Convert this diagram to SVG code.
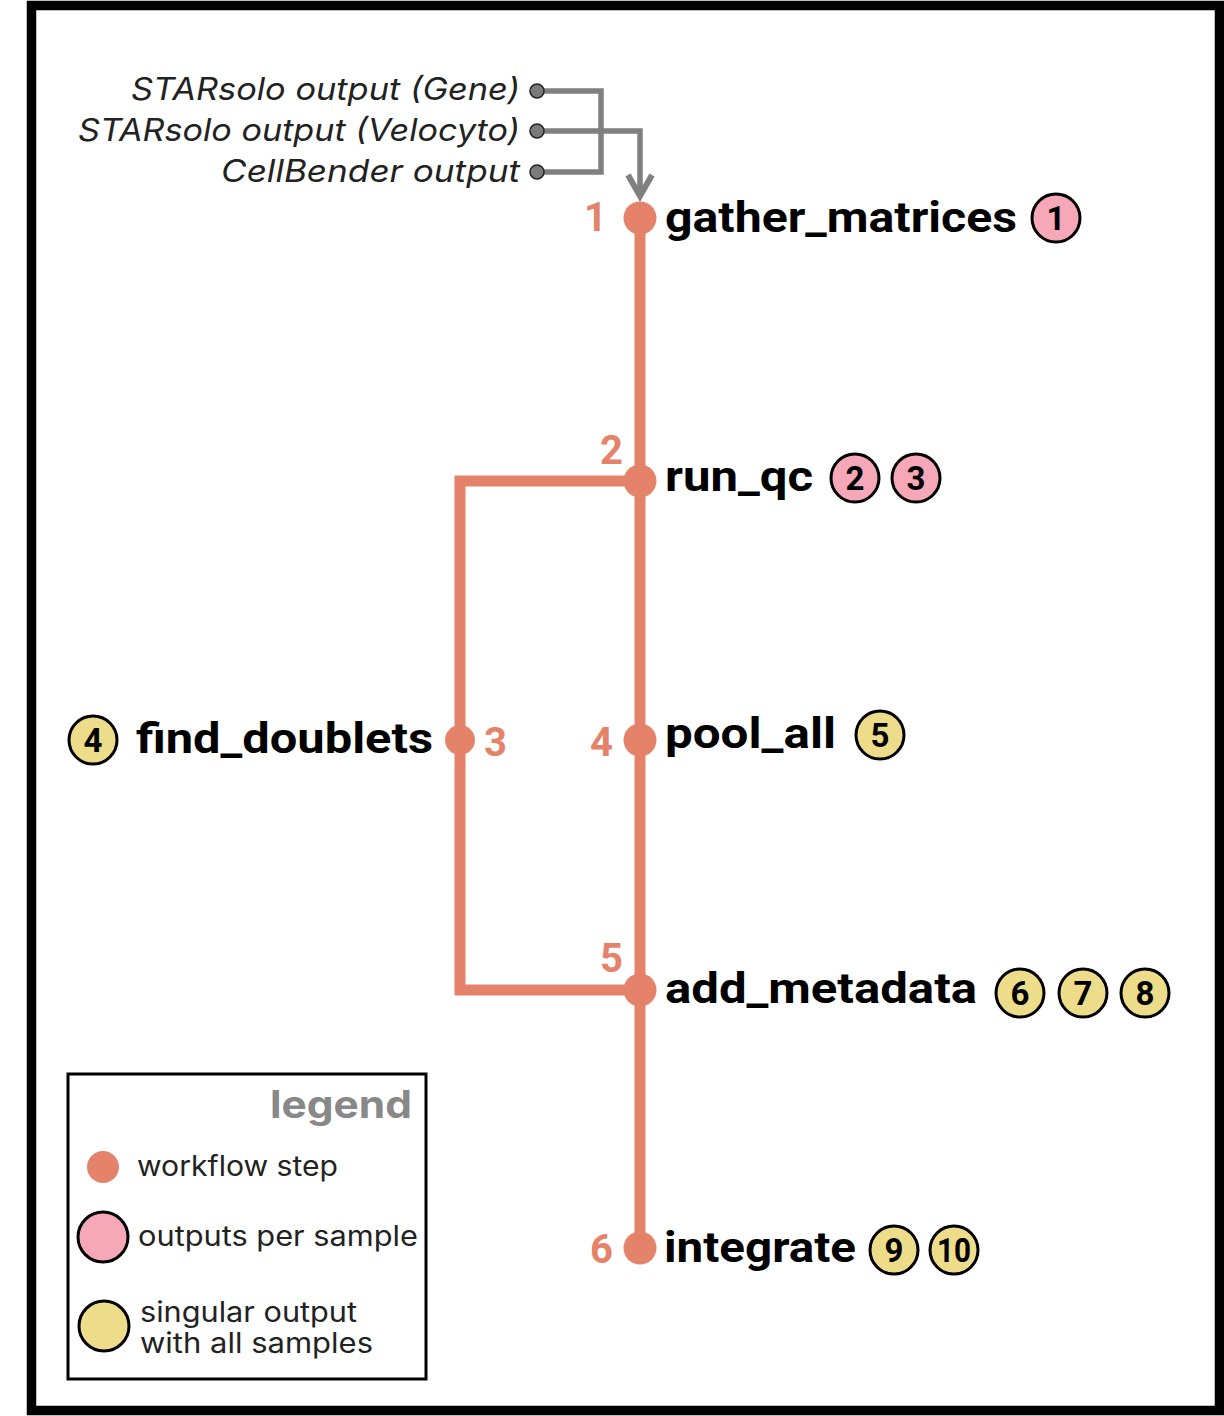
<svg xmlns="http://www.w3.org/2000/svg" width="1224" height="1416" viewBox="0 0 1224 1416">
<style>
.lbl{font-family:Roboto,"Liberation Sans",sans-serif;font-weight:700;font-size:42px;fill:#000}
.num{font-family:Roboto,"Liberation Sans",sans-serif;font-weight:700;font-size:40px;fill:#E5826A}
.cn{font-family:Roboto,"Liberation Sans",sans-serif;font-weight:700;font-size:33px;fill:#000;text-anchor:middle}
.inp{font-family:Inter,"Liberation Sans",sans-serif;font-style:italic;font-size:31px;fill:#222;text-anchor:end}
.leg{font-family:Inter,"Liberation Sans",sans-serif;font-size:28px;fill:#222}
.pink{fill:#F6A8B8;stroke:#000;stroke-width:3}
.yel{fill:#EDDC8A;stroke:#000;stroke-width:3}
.step{fill:#E5826A}
.route{fill:none;stroke:#E5826A;stroke-width:11}
.grey{fill:none;stroke:#808080;stroke-width:5.5}
.gdot{fill:#7a7a7a;stroke:#222;stroke-width:1.5}
</style>
<rect x="0" y="0" width="1224" height="1416" fill="#fff"/>
<rect x="31.5" y="5.5" width="1188" height="1405" fill="#fff" stroke="#000" stroke-width="9.5"/>

<g id="connectors">
<polyline class="route" points="640,218 640,1250"/>
<polyline class="route" points="640,481 460,481 460,990 640,990"/>
<polyline class="grey" points="537,91 601,91 601,172 537,172"/>
<polyline class="grey" points="537,131 640,131 640,194"/>
<polyline points="628,175 640,196 652,175" fill="none" stroke="#808080" stroke-width="6" stroke-linejoin="miter"/>
</g>

<g id="inputs">
<text class="inp" x="520" y="100" textLength="389" lengthAdjust="spacingAndGlyphs">STARsolo output (Gene)</text>
<text class="inp" x="520" y="141" textLength="442" lengthAdjust="spacingAndGlyphs">STARsolo output (Velocyto)</text>
<text class="inp" x="520" y="182" textLength="299" lengthAdjust="spacingAndGlyphs">CellBender output</text>
<circle class="gdot" cx="537" cy="91" r="7"/>
<circle class="gdot" cx="537" cy="131" r="7"/>
<circle class="gdot" cx="537" cy="172" r="7"/>
</g>

<g id="gather_matrices">
<circle class="step" cx="640" cy="218" r="16.5"/>
<text class="num" x="607" y="231" text-anchor="end">1</text>
<text class="lbl" x="665" y="232" textLength="352" lengthAdjust="spacingAndGlyphs">gather_matrices</text>
<circle class="pink" cx="1056" cy="218" r="24"/>
<text class="cn" x="1056" y="230">1</text>
</g>

<g id="run_qc">
<circle class="step" cx="640" cy="481" r="16.5"/>
<text class="num" x="623" y="464" text-anchor="end">2</text>
<text class="lbl" x="665" y="491" textLength="148" lengthAdjust="spacingAndGlyphs">run_qc</text>
<circle class="pink" cx="855" cy="478" r="24"/>
<text class="cn" x="855" y="490">2</text>
<circle class="pink" cx="916" cy="478" r="24"/>
<text class="cn" x="916" y="490">3</text>
</g>

<g id="find_doublets">
<circle class="step" cx="460" cy="740" r="15"/>
<text class="num" x="484" y="756">3</text>
<text class="lbl" x="136" y="753" textLength="297" lengthAdjust="spacingAndGlyphs">find_doublets</text>
<circle class="yel" cx="93" cy="740" r="24"/>
<text class="cn" x="93" y="752">4</text>
</g>

<g id="pool_all">
<circle class="step" cx="640" cy="740" r="16.5"/>
<text class="num" x="613" y="756" text-anchor="end">4</text>
<text class="lbl" x="665" y="748" textLength="171" lengthAdjust="spacingAndGlyphs">pool_all</text>
<circle class="yel" cx="880" cy="735" r="24"/>
<text class="cn" x="880" y="747">5</text>
</g>

<g id="add_metadata">
<circle class="step" cx="640" cy="990" r="16.5"/>
<text class="num" x="623" y="972" text-anchor="end">5</text>
<text class="lbl" x="665" y="1003" textLength="312" lengthAdjust="spacingAndGlyphs">add_metadata</text>
<circle class="yel" cx="1020" cy="993" r="24"/>
<text class="cn" x="1020" y="1005">6</text>
<circle class="yel" cx="1083" cy="993" r="24"/>
<text class="cn" x="1083" y="1005">7</text>
<circle class="yel" cx="1145" cy="993" r="24"/>
<text class="cn" x="1145" y="1005">8</text>
</g>

<g id="integrate">
<circle class="step" cx="640" cy="1248" r="16.5"/>
<text class="num" x="613" y="1263" text-anchor="end">6</text>
<text class="lbl" x="664" y="1262" textLength="192" lengthAdjust="spacingAndGlyphs">integrate</text>
<circle class="yel" cx="894" cy="1250" r="24"/>
<text class="cn" x="894" y="1262">9</text>
<circle class="yel" cx="954" cy="1250" r="24"/>
<text class="cn" x="954" y="1262" textLength="34" lengthAdjust="spacingAndGlyphs">10</text>
</g>

<g id="legend">
<rect x="68" y="1074" width="358" height="305" fill="#fff" stroke="#000" stroke-width="3"/>
<text x="412" y="1118" text-anchor="end" font-family="Inter,'Liberation Sans',sans-serif" font-weight="700" font-size="38" fill="#888" textLength="142" lengthAdjust="spacingAndGlyphs">legend</text>
<circle class="step" cx="103" cy="1167" r="16"/>
<text class="leg" x="137" y="1176" textLength="201" lengthAdjust="spacingAndGlyphs">workflow step</text>
<circle class="pink" cx="103" cy="1237" r="25"/>
<text class="leg" x="138" y="1246" textLength="280" lengthAdjust="spacingAndGlyphs">outputs per sample</text>
<circle class="yel" cx="104" cy="1326" r="25"/>
<text class="leg" x="140" y="1322" textLength="217" lengthAdjust="spacingAndGlyphs">singular output</text>
<text class="leg" x="140" y="1353" textLength="233" lengthAdjust="spacingAndGlyphs">with all samples</text>
</g>
</svg>
